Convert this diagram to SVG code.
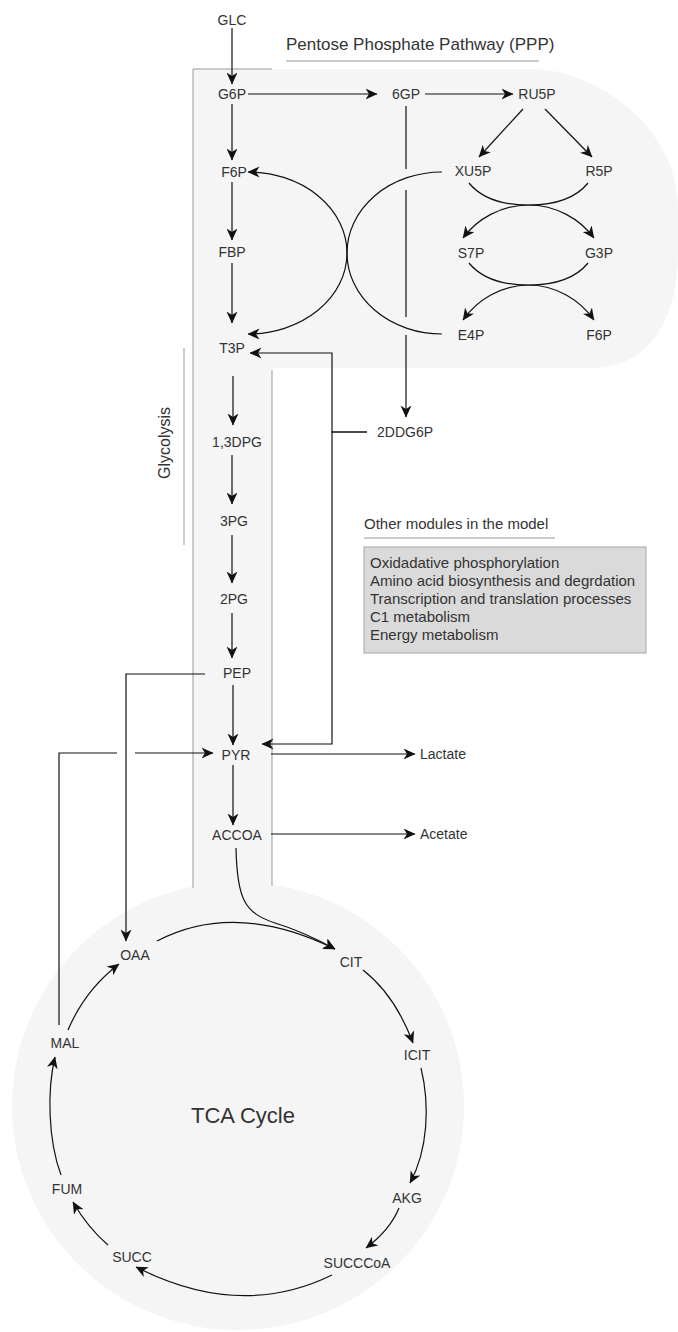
<svg xmlns="http://www.w3.org/2000/svg" width="678" height="1332" viewBox="0 0 678 1332">
<style>
text{font-family:"Liberation Sans",Arial,sans-serif;fill:#333;}
.n{font-size:14px;text-anchor:middle;}
.l{font-size:14px;}
.c{fill:none;stroke:#111;stroke-width:1.2;}
.e{marker-end:url(#a);}
.s{marker-start:url(#a);}
.rule{stroke:#999;stroke-width:1;fill:none;}
.bd{stroke:#9a9a9a;stroke-width:1;fill:none;}
</style>
<defs>
<marker id="a" markerUnits="userSpaceOnUse" viewBox="0 0 12 12" refX="11.5" refY="6" markerWidth="12" markerHeight="12" orient="auto-start-reverse">
<path d="M0,0.5 L12,6 L0,11.5 L3.5,6 Z" fill="#111"/>
</marker>
</defs>
<g id="backgrounds">
<ellipse cx="238" cy="1106" rx="226" ry="224" fill="#f5f5f5"/>
<rect x="193" y="69" width="79" height="830" fill="#f5f5f5"/>
<path d="M272,69 H530 C595,69 678,125 678,210 L678,250 C678,320 650,368 590,368 H272 Z" fill="#f5f5f5"/>
<path class="bd" d="M193,888 V69 H272"/>
<path class="bd" d="M272,370 V886"/>
</g>
<g id="ppp-title">
<text x="286" y="50" style="font-size:17px">Pentose Phosphate Pathway (PPP)</text>
<line class="rule" x1="286" y1="61" x2="539" y2="61"/>
</g>
<g id="glycolysis-title">
<text x="170" y="443" transform="rotate(-90 170 443)" style="font-size:16px;text-anchor:middle">Glycolysis</text>
<line class="rule" x1="184" y1="348" x2="184" y2="545"/>
</g>
<g id="other-modules">
<text x="364" y="529" style="font-size:15px">Other modules in the model</text>
<line class="rule" x1="364" y1="538" x2="555" y2="538"/>
<rect x="364" y="547" width="282" height="106" fill="#dadada" stroke="#a6a6a6" stroke-width="1"/>
<text x="370" y="568" style="font-size:15px">Oxidadative phosphorylation</text>
<text x="370" y="586" style="font-size:15px">Amino acid biosynthesis and degrdation</text>
<text x="370" y="604" style="font-size:15px">Transcription and translation processes</text>
<text x="370" y="622" style="font-size:15px">C1 metabolism</text>
<text x="370" y="640" style="font-size:15px">Energy metabolism</text>
</g>
<g id="connectors">
<path class="c e" d="M232,28 V84"/>
<path class="c e" d="M232,104 V160"/>
<path class="c e" d="M232,182 V240"/>
<path class="c e" d="M232,263 V323"/>
<path class="c e" d="M233,376 V425"/>
<path class="c e" d="M232,455 V504"/>
<path class="c e" d="M232,535 V583"/>
<path class="c e" d="M232,613 V658"/>
<path class="c e" d="M233,685 V745"/>
<path class="c e" d="M233,765 V825"/>
<path class="c e" d="M248,94 H377"/>
<path class="c e" d="M425,94 H513"/>
<path class="c e" d="M523,109 L479,157"/>
<path class="c e" d="M545,109 L592,157"/>
<path class="c e" d="M469,183 C482,199 505,205 528,205 C556,205 580,219 594,238"/>
<path class="c e" d="M588,183 C575,199 552,205 529,205 C501,205 477,219 463,238"/>
<path class="c e" d="M469,263 C482,279 505,285 528,285 C556,285 580,300 594,320"/>
<path class="c e" d="M588,263 C575,279 552,285 529,285 C501,285 477,300 463,320"/>
<path class="c e s" d="M248,172 A99,81 0 0 1 248,334"/>
<path class="c" d="M442,172 A95,81 0 0 0 442,334"/>
<path class="c e" d="M406,106 V169 M406,190 V317 M406,335 V417"/>
<path class="c e" d="M367,432 H332 V353 H250"/>
<path class="c e" d="M367,432 H332 V744 H262"/>
<path class="c e" d="M271,754 H415"/>
<path class="c e" d="M271,834 H415"/>
<path class="c e" d="M205,674 H126 V941"/>
<path class="c e" d="M59,1025 V753 H117 M135,753 H213"/>
<path class="c e" d="M236,848 C237,900 245,913 275,923 C295,929 315,938 335,949"/>
<path class="c e" d="M157,941 Q235,900 335,949"/>
<path class="c e" d="M363,970 Q395,995 413,1043"/>
<path class="c e" d="M421,1068 C430,1105 428,1150 410,1183"/>
<path class="c e" d="M399,1208 Q390,1230 366,1248"/>
<path class="c e" d="M332,1275 Q240,1320 136,1267"/>
<path class="c e" d="M108,1245 Q88,1228 73,1202"/>
<path class="c e" d="M61,1175 C48,1140 47,1090 55,1057"/>
<path class="c e" d="M68,1030 Q85,990 119,964"/>
</g>
<g id="GLC"><text class="n" x="232" y="25">GLC</text></g>
<g id="G6P"><text class="n" x="232" y="99">G6P</text></g>
<g id="F6P"><text class="n" x="234" y="177">F6P</text></g>
<g id="FBP"><text class="n" x="232" y="257">FBP</text></g>
<g id="T3P"><text class="n" x="232" y="353">T3P</text></g>
<g id="DPG13"><text class="n" x="237" y="447">1,3DPG</text></g>
<g id="PG3"><text class="n" x="234" y="526">3PG</text></g>
<g id="PG2"><text class="n" x="234" y="604">2PG</text></g>
<g id="PEP"><text class="n" x="237" y="678">PEP</text></g>
<g id="PYR"><text class="n" x="236" y="760">PYR</text></g>
<g id="ACCOA"><text class="n" x="237" y="840">ACCOA</text></g>
<g id="GP6"><text class="n" x="406" y="99">6GP</text></g>
<g id="RU5P"><text class="n" x="537" y="99">RU5P</text></g>
<g id="XU5P"><text class="n" x="473" y="176">XU5P</text></g>
<g id="R5P"><text class="n" x="599" y="176">R5P</text></g>
<g id="S7P"><text class="n" x="471" y="258">S7P</text></g>
<g id="G3P"><text class="n" x="599" y="258">G3P</text></g>
<g id="E4P"><text class="n" x="471" y="340">E4P</text></g>
<g id="F6P-ppp"><text class="n" x="599" y="340">F6P</text></g>
<g id="DDG6P2"><text class="n" x="405" y="437">2DDG6P</text></g>
<g id="Lactate"><text class="l" x="420" y="759">Lactate</text></g>
<g id="Acetate"><text class="l" x="420" y="839">Acetate</text></g>
<g id="OAA"><text class="n" x="135" y="960">OAA</text></g>
<g id="CIT"><text class="n" x="351" y="967">CIT</text></g>
<g id="ICIT"><text class="n" x="417" y="1060">ICIT</text></g>
<g id="AKG"><text class="n" x="407" y="1203">AKG</text></g>
<g id="SUCCCoA"><text class="n" x="357" y="1268">SUCCCoA</text></g>
<g id="SUCC"><text class="n" x="132" y="1262">SUCC</text></g>
<g id="FUM"><text class="n" x="67" y="1194">FUM</text></g>
<g id="MAL"><text class="n" x="65" y="1048">MAL</text></g>
<g id="TCA-label"><text x="243" y="1123" style="font-size:22px;text-anchor:middle">TCA Cycle</text></g>
</svg>
